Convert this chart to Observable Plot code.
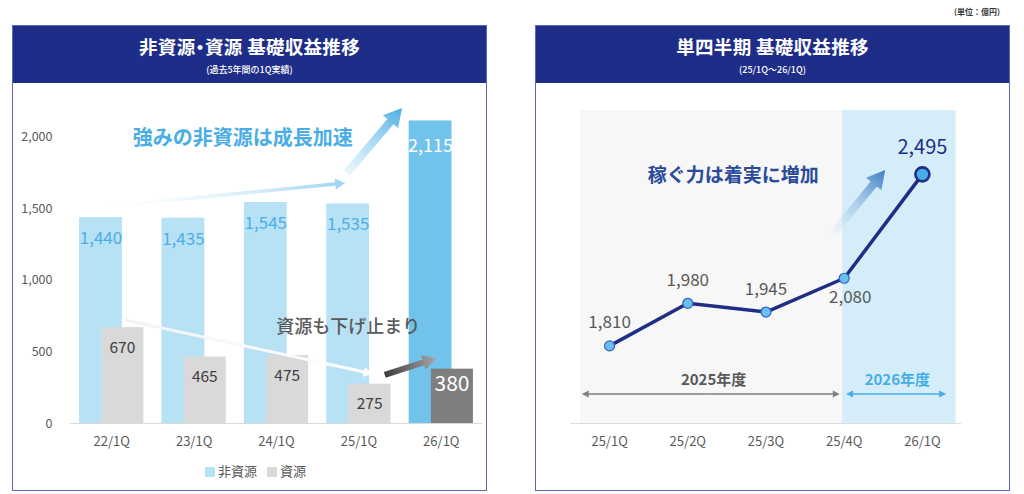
<!DOCTYPE html>
<html><head><meta charset="utf-8">
<script src="https://cdn.jsdelivr.net/npm/d3@7"></script>
<script src="https://cdn.jsdelivr.net/npm/@observablehq/plot@0.6"></script>
<style>
html,body{margin:0;padding:0;background:#fff;}
body{width:1024px;height:494px;position:relative;overflow:hidden;font-family:"Noto Sans CJK JP","Noto Sans",sans-serif;}
.unit{position:absolute;right:24px;top:6px;font-size:8px;color:#3a3a3a;font-weight:bold;}
.panel{position:absolute;top:25px;width:475px;height:466px;box-sizing:border-box;border:1.5px solid #5a69b9;}
.hdr{position:absolute;left:0;top:0;right:0;height:57px;background:#1e2d88;color:#fff;text-align:center;}
.hdr .t{position:absolute;left:0;right:0;top:8px;font-size:18.5px;line-height:24px;font-weight:bold;letter-spacing:0.3px;}
.hdr .t .dot{font-feature-settings:"palt";}
.hdr .s{position:absolute;left:0;right:0;top:38px;font-size:9px;line-height:12px;font-weight:500;}
.chart{position:absolute;top:84px;}
.legend{position:absolute;top:461px;left:205px;font-size:13px;color:#595959;display:flex;gap:10px;align-items:center;}
.legend span.sw{display:inline-block;width:10px;height:10px;margin-right:3px;vertical-align:middle;}
</style></head>
<body>
<div class="unit">(単位：億円)</div>
<div class="panel" style="left:12px"><div class="hdr"><div class="t">非資源<span class="dot">・</span>資源 基礎収益推移</div><div class="s">(過去5年間の1Q実績)</div></div></div>
<div class="panel" style="left:535px"><div class="hdr"><div class="t">単四半期 基礎収益推移</div><div class="s">(25/1Q～26/1Q)</div></div></div>
<div id="left" class="chart" style="left:13px"></div>
<div id="right" class="chart" style="left:536px"></div>
<div class="legend"><span><span class="sw" style="background:#b7e1f5"></span>非資源</span><span><span class="sw" style="background:#d9d9d9"></span>資源</span></div>
<script>
// ---- data: left chart ----
const years = ["22/1Q","23/1Q","24/1Q","25/1Q","26/1Q"];
const nonResource = [1440, 1435, 1545, 1535, 2115];
const resource = [670, 465, 475, 275, 380];
const yTicks = [0, 500, 1000, 1500, 2000];
// ---- data: right chart ----
const quarters = ["25/1Q","25/2Q","25/3Q","25/4Q","26/1Q"];
const quarterly = [1810, 1980, 1945, 2080, 2495];
const fiscalYears = [{name:"2025年度", first:0, last:3}, {name:"2026年度", first:4, last:4}];
// annotation arrows (data-space: index on x, value on y)
const leftArrows = [
  {id:"a1", x1:-0.1, y1:1510, x2:2.84, y2:1678, w:3.5, hw:11, hl:10, c0:"#ffffff", o0:0.2, c1:"#9dd3f2"},
  {id:"a2", x1:2.86, y1:1748, x2:3.53, y2:2203, w:8, hw:20, hl:18, c0:"#d9effb", o0:0.6, c1:"#4aaee6"},
  {id:"a3", x1:0.17, y1:720, x2:3.18, y2:343, w:3, hw:10, hl:10, c0:"#f2f2f2", o0:1, c1:"#ffffff"},
  {id:"a4", x1:3.32, y1:336, x2:3.95, y2:455, w:6, hw:15, hl:14, c0:"#3d3d3d", o0:1, c1:"#a8a8a8"}
];
const rightArrows = [
  {id:"b1", x1:2.85, y1:2251, x2:3.53, y2:2510, w:8, hw:20, hl:18, c0:"#e3f3fc", o0:0.3, c1:"#3d7cc4"},
  // fiscal-year span arrows (double-headed: drawn outward from the middle)
  {id:"s1", x1:1.3, y1:1616, x2:-0.35, y2:1616, w:1.6, hw:7, hl:7, c0:"#808080", o0:1, c1:"#808080"},
  {id:"s2", x1:1.3, y1:1616, x2:2.95, y2:1616, w:1.6, hw:7, hl:7, c0:"#808080", o0:1, c1:"#808080"},
  {id:"s3", x1:3.67, y1:1616, x2:3.03, y2:1616, w:1.6, hw:7, hl:7, c0:"#45aee8", o0:1, c1:"#45aee8"},
  {id:"s4", x1:3.67, y1:1616, x2:4.31, y2:1616, w:1.6, hw:7, hl:7, c0:"#45aee8", o0:1, c1:"#45aee8"}
];

const fmt = d3.format(",");
const FONT = '"Noto Sans CJK JP","Noto Sans",sans-serif';

function fatArrows(list){
  return (index, scales) => {
    const g = d3.create("svg:g");
    const defs = g.append("defs");
    list.forEach(a => {
      const x1 = scales.x(a.x1), y1 = scales.y(a.y1), x2 = scales.x(a.x2), y2 = scales.y(a.y2);
      const gid = "grad-" + a.id;
      const dx = x2-x1, dy = y2-y1, L = Math.hypot(dx,dy), ux = dx/L, uy = dy/L, nx = -uy, ny = ux;
      const lg = defs.append("linearGradient").attr("id", gid).attr("gradientUnits","userSpaceOnUse")
        .attr("x1",x1).attr("y1",y1).attr("x2",x2).attr("y2",y2 + (Math.abs(dy)<0.5?0.01:0));
      lg.append("stop").attr("offset",0).attr("stop-color",a.c0).attr("stop-opacity",a.o0);
      lg.append("stop").attr("offset",1).attr("stop-color",a.c1).attr("stop-opacity",1);
      const hw = a.w/2, hh = a.hw/2, bx = x2-ux*a.hl, by = y2-uy*a.hl;
      const pts = [[x1+nx*hw,y1+ny*hw],[bx+nx*hw,by+ny*hw],[bx+nx*hh,by+ny*hh],[x2,y2],
                   [bx-nx*hh,by-ny*hh],[bx-nx*hw,by-ny*hw],[x1-nx*hw,y1-ny*hw]];
      g.append("path").attr("d","M"+pts.map(p=>p.join(",")).join("L")+"Z").attr("fill",`url(#${gid})`);
    });
    return g.node();
  };
}

// ---- left chart ----
const rows = years.map((c,i)=>({i, c, non:nonResource[i], res:resource[i], latest:i===years.length-1}));
const left = Plot.plot({
  width:472, height:405, marginLeft:57, marginRight:3, marginTop:10, marginBottom:66,
  style:{fontFamily:FONT, background:"transparent", overflow:"visible"},
  x:{type:"linear", domain:[-0.5, years.length-0.5]},
  y:{domain:[0,2300]},
  marks:[
    Plot.rectY(rows,{x1:d=>d.i-0.39, x2:d=>d.i+0.13, y1:0, y2:"non", fill:d=>d.latest?"#71c3ec":"#b7e1f5"}),
    Plot.rectY(rows,{x1:d=>d.i-0.12, x2:d=>d.i+0.39, y1:0, y2:"res", fill:d=>d.latest?"#7f7f7f":"#d9d9d9"}),
    Plot.ruleY([0],{stroke:"#d9d9d9", strokeWidth:1.2}),
    Plot.axisY({ticks:yTicks, tickFormat:fmt, tickSize:0, tickPadding:18, fontSize:12.5, fill:"#595959", label:null}),
    Plot.axisX({ticks:d3.range(years.length), tickFormat:i=>years[i], tickSize:0, tickPadding:13, fontSize:13, fill:"#595959", label:null}),
    Plot.text(rows.filter(d=>!d.latest),{x:d=>d.i-0.13, y:"non", text:d=>fmt(d.non), dy:21, fill:"#4eaee5", fontSize:17}),
    Plot.text(rows.filter(d=>d.latest),{x:d=>d.i-0.13, y:"non", text:d=>fmt(d.non), dy:25, fill:"#ffffff", fontSize:18}),
    Plot.text(rows.filter(d=>!d.latest),{x:d=>d.i+0.13, y:"res", text:d=>fmt(d.res), dy:20, fill:"#404040", fontSize:15.5}),
    Plot.text(rows.filter(d=>d.latest),{x:d=>d.i+0.13, y:"res", text:d=>fmt(d.res), dy:15, fill:"#ffffff", fontSize:21}),
    fatArrows(leftArrows),
    Plot.text(["強みの非資源は成長加速"],{x:1.59, y:1992, text:d=>d, fill:"#4aaee6", fontSize:20, fontWeight:"bold"}),
    Plot.text(["資源も下げ止まり"],{x:2.87, y:671, text:d=>d, fill:"#595959", fontSize:18, fontWeight:500})
  ]
});
document.getElementById("left").append(left);

// ---- right chart ----
const pts = quarters.map((q,i)=>({i, q, v:quarterly[i], latest:i===quarters.length-1}));
const right = Plot.plot({
  width:472, height:405, marginLeft:34, marginRight:47, marginTop:26, marginBottom:66,
  style:{fontFamily:FONT, background:"transparent", overflow:"visible"},
  x:{type:"linear", domain:[-0.5, quarters.length-0.5]},
  y:{domain:[1500,2750], axis:null},
  marks:[
    Plot.rect(fiscalYears,{x1:d=>d.first===0?d.first-0.37:d.first-1.02, x2:d=>d.first===0?d.last-0.02:d.last+0.43, y1:1500, y2:2750,
      fill:(d,k)=>k===0?"#f7f7f7":"#d5edf9"}),
    Plot.ruleY([1500],{stroke:"#dcdcdc", strokeWidth:1.2}),
    Plot.axisX({ticks:d3.range(quarters.length), tickFormat:i=>quarters[i], tickSize:0, tickPadding:13, fontSize:13, fill:"#595959", label:null}),
    Plot.text(fiscalYears,{x:d=>d.first===0?1.33:3.68, y:1672, text:"name", fill:(d,k)=>k===0?"#595959":"#45aee8", fontSize:15, fontWeight:"bold"}),
    fatArrows(rightArrows),
    Plot.line(pts,{x:"i", y:"v", stroke:"#1f2d87", strokeWidth:3.5}),
    Plot.dot(pts.filter(d=>!d.latest),{x:"i", y:"v", r:5, fill:"#6bbff0", stroke:"#2d63b8", strokeWidth:1.2}),
    Plot.dot(pts.filter(d=>d.latest),{x:"i", y:"v", r:7, fill:"#45aee8", stroke:"#1f2d87", strokeWidth:2.6}),
    Plot.text(pts.filter(d=>d.i<3),{x:"i", y:"v", text:d=>fmt(d.v), dy:-23, fill:"#595959", fontSize:17}),
    Plot.text(pts.filter(d=>d.i===3),{x:"i", y:"v", text:d=>fmt(d.v), dy:19, dx:6, fill:"#595959", fontSize:17}),
    Plot.text(pts.filter(d=>d.latest),{x:"i", y:"v", text:d=>fmt(d.v), dy:-27, fill:"#1f2d87", fontSize:20}),
    Plot.text(["稼ぐ力は着実に増加"],{x:1.58, y:2490, text:d=>d, fill:"#2a4b9b", fontSize:19, fontWeight:"bold"})
  ]
});
document.getElementById("right").append(right);
</script>
</body></html>
